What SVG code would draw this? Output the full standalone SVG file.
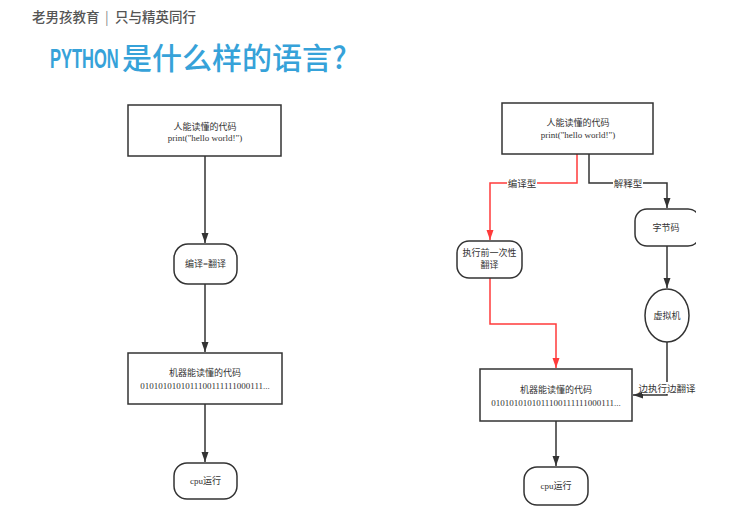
<svg xmlns="http://www.w3.org/2000/svg" width="740" height="506" viewBox="0 0 740 506">
<defs>
<style>
.box{fill:#fff;stroke:#333;stroke-width:1.5}
.term{fill:#fff;stroke:#333;stroke-width:1.5}
.t{font-family:"Liberation Serif","Noto Sans CJK SC",serif;font-size:9px;fill:#333;text-anchor:middle}
.lbl{font-family:"Liberation Serif","Noto Sans CJK SC",serif;font-size:9.5px;fill:#333;text-anchor:middle}
.ln{fill:none;stroke:#333;stroke-width:1.5}
.red{fill:none;stroke:#ff3b3b;stroke-width:1.5}
.hdr{font-family:"Noto Sans CJK SC",sans-serif;font-size:13.5px;fill:#555;font-weight:500}
.py{font-family:"Liberation Sans",sans-serif;font-size:28px;font-weight:bold;fill:#36a2d9}
.cn{font-family:"Noto Sans CJK SC",sans-serif;font-size:30px;font-weight:500;fill:#36a2d9}
</style>
<marker id="ah" markerWidth="10" markerHeight="8" refX="10" refY="4" orient="auto" markerUnits="userSpaceOnUse">
<path d="M0,0.5 L10,4 L0,7.5 z" fill="#333"/>
</marker>
<marker id="ahr" markerWidth="10" markerHeight="8" refX="10" refY="4" orient="auto" markerUnits="userSpaceOnUse">
<path d="M0,0.5 L10,4 L0,7.5 z" fill="#ff3b3b"/>
</marker>
<clipPath id="cut"><rect x="0" y="0" width="696" height="506"/></clipPath>
</defs>
<rect width="740" height="506" fill="#fff"/>
<g id="header">
<text class="hdr" x="32" y="22">老男孩教育<tspan x="105" fill="#888" font-weight="400">|</tspan><tspan x="115">只与精英同行</tspan></text>
</g>
<g id="title">
<text class="py" transform="translate(50,68) scale(0.59,1)" x="0" y="0">PYTHON</text>
<text class="cn" x="122" y="69">是什么样的语言?</text>
</g>
<g id="connectors">
<path class="ln" d="M205,156 V243" marker-end="url(#ah)"/>
<path class="ln" d="M205,284 V352" marker-end="url(#ah)"/>
<path class="ln" d="M205,404 V462" marker-end="url(#ah)"/>
<path class="red" d="M577,154 V183 H490 V240" marker-end="url(#ahr)"/>
<path class="ln" d="M589,154 V183 H667 V208" marker-end="url(#ah)"/>
<path class="ln" d="M667,246 V288" marker-end="url(#ah)"/>
<path class="red" d="M490,278 V324 H556 V368" marker-end="url(#ahr)"/>
<path class="ln" d="M667,342 V395 H633" marker-end="url(#ah)"/>
<path class="ln" d="M556,421 V466" marker-end="url(#ah)"/>
<rect x="507" y="177" width="30" height="12" fill="#fff"/>
<text class="lbl" x="522" y="186.5">编译型</text>
<rect x="613" y="177" width="30" height="12" fill="#fff"/>
<text class="lbl" x="628" y="186.5">解释型</text>
<rect x="642" y="382" width="51" height="12" fill="#fff"/>
<text class="lbl" x="667" y="391.5">边执行边翻译</text>
</g>
<g id="l_src">
<rect class="box" x="128" y="105" width="153" height="51"/>
<text class="t" x="205" y="130">人能读懂的代码</text>
<text class="t" x="205" y="141">print("hello world!")</text>
</g>
<g id="l_compile">
<rect class="term" x="174" y="244" width="63" height="40" rx="14"/>
<text class="t" x="205.5" y="267">编译=翻译</text>
</g>
<g id="l_machine">
<rect class="box" x="128" y="353" width="154" height="51"/>
<text class="t" x="205" y="376">机器能读懂的代码</text>
<text class="t" x="205" y="389">0101010101011100111111000111...</text>
</g>
<g id="l_cpu">
<rect class="term" x="174" y="463" width="63" height="36" rx="13"/>
<text class="t" x="205.5" y="484">cpu运行</text>
</g>
<g id="r_src">
<rect class="box" x="502" y="103" width="151" height="51"/>
<text class="t" x="578" y="126">人能读懂的代码</text>
<text class="t" x="578" y="138">print("hello world!")</text>
</g>
<g id="r_precompile">
<rect class="term" x="457" y="241" width="65" height="37" rx="12"/>
<text class="t" x="489.5" y="256">执行前一次性</text>
<text class="t" x="489.5" y="268">翻译</text>
</g>
<g id="r_bytecode" clip-path="url(#cut)">
<rect class="term" x="635" y="209" width="65" height="37" rx="12"/>
<text class="t" x="666" y="231">字节码</text>
</g>
<g id="r_vm">
<ellipse class="term" cx="667" cy="315.5" rx="22" ry="26.5"/>
<text class="t" x="667" y="319">虚拟机</text>
</g>
<g id="r_machine">
<rect class="box" x="480" y="369" width="152" height="52"/>
<text class="t" x="556" y="393">机器能读懂的代码</text>
<text class="t" x="556" y="406">0101010101011100111111000111...</text>
</g>
<g id="r_cpu">
<rect class="term" x="524" y="467" width="64" height="38" rx="13"/>
<text class="t" x="556" y="489">cpu运行</text>
</g>
</svg>
